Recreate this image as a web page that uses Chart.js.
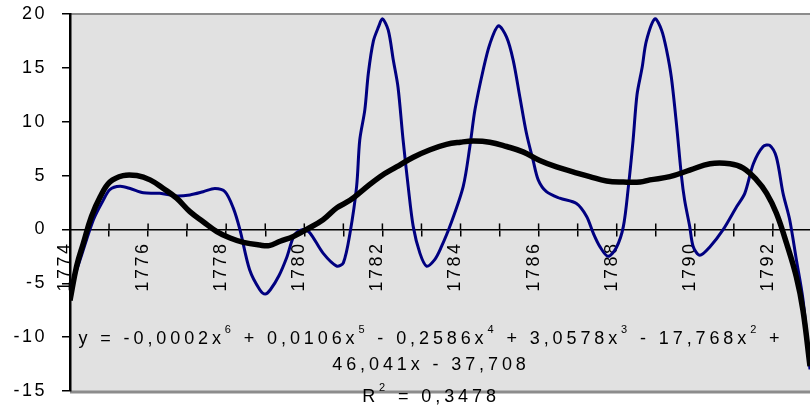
<!DOCTYPE html>
<html lang="en">
<head>
  <meta charset="UTF-8">
  <title>Series 1774-1792 with polynomial trend</title>
  <script src="https://cdn.jsdelivr.net/npm/chart.js"></script>
  <style>
    html, body {
      margin: 0;
      padding: 0;
      background: #fff;
    }
    .container {
      width: 810px;
      height: 409px;
    }
  </style>
</head>
<body>
  <div class="container">
    <canvas id="trendChart"></canvas>
  </div>

  <script>
    // blue series (year, value)
    const seriesYears = [
      1774.0, 1774.26, 1774.6, 1774.85, 1775.02, 1775.28, 1775.54, 1775.88, 1776.3, 1776.73,
      1777.07, 1777.41, 1777.71, 1777.97, 1778.18, 1778.35, 1778.6, 1778.86, 1779.0, 1779.13,
      1779.35, 1779.55, 1779.75, 1779.97, 1780.14, 1780.48, 1780.83, 1781.0, 1781.17, 1781.34,
      1781.42, 1781.55, 1781.64, 1781.77, 1781.9, 1782.0, 1782.15, 1782.28, 1782.4, 1782.53,
      1782.66, 1782.79, 1782.96, 1783.13, 1783.34, 1783.5, 1783.75, 1784.07, 1784.24, 1784.37,
      1784.58, 1784.75, 1784.97, 1785.18, 1785.35, 1785.52, 1785.69, 1785.86, 1785.99, 1786.2,
      1786.54, 1786.97, 1787.23, 1787.4, 1787.57, 1787.78, 1787.99, 1788.17, 1788.3, 1788.42,
      1788.52, 1788.65, 1788.76, 1788.98, 1789.15, 1789.28, 1789.4, 1789.53, 1789.66, 1789.74,
      1789.87, 1789.96, 1790.13, 1790.39, 1790.73, 1791.07, 1791.28, 1791.5, 1791.75, 1791.92,
      1792.09, 1792.26, 1792.43, 1792.6, 1792.77, 1792.95
    ];
    const seriesValues = [
      -5.6, -2.8, 0.9, 2.7, 3.7, 4.0, 3.8, 3.4, 3.35, 3.1,
      3.2, 3.5, 3.8, 3.5, 2.0, 0.0, -3.75, -5.6, -6.0, -5.6,
      -4.3, -2.6, -0.5, 0.0, -0.3, -2.2, -3.4, -3.1, -0.35, 4.0,
      8.3, 11.1, 14.5, 17.5, 18.8, 19.55, 18.5, 15.7, 13.2, 8.3,
      4.0, 0.26, -2.2, -3.4, -2.8, -1.7, 0.5, 4.0, 7.7, 11.1,
      14.8, 17.2, 18.9, 17.85, 15.7, 12.3, 8.9, 6.4, 4.6, 3.5,
      2.9, 2.4, 1.2, -0.35, -1.6, -2.5, -1.7, 0.26, 4.0, 8.3,
      12.5, 15.0, 17.5, 19.55, 18.5, 16.6, 14.1, 9.8, 4.9, 2.7,
      0.26, -1.6, -2.4, -1.6, 0.0, 2.1, 3.35, 6.1, 7.7, 7.8,
      6.7, 3.35, 0.9, -2.8, -6.5, -13.0
    ];

    // black polynomial trend line
    const trendYears = [
      1774.0, 1774.17, 1774.34, 1774.55, 1774.77, 1775.02, 1775.36, 1775.71, 1776.05, 1776.39,
      1776.73, 1777.07, 1777.41, 1777.76, 1778.1, 1778.44, 1778.86, 1779.1, 1779.38, 1779.72,
      1780.06, 1780.48, 1780.83, 1781.17, 1781.5, 1781.94, 1782.36, 1782.79, 1783.22, 1783.64,
      1784.0, 1784.33, 1784.75, 1785.18, 1785.6, 1786.03, 1786.46, 1786.88, 1787.31, 1787.74,
      1788.17, 1788.6, 1788.85, 1789.36, 1789.87, 1790.39, 1790.9, 1791.24, 1791.58, 1791.84,
      1792.09, 1792.35, 1792.6, 1792.77, 1792.95
    ];
    const trendValues = [
      -6.6, -3.4, -1.3, 1.2, 3.0, 4.4, 5.0, 5.0, 4.6, 3.8,
      2.9, 1.65, 0.72, -0.2, -0.8, -1.2, -1.45, -1.5, -1.1, -0.65,
      0.0, 0.9, 2.0, 2.7, 3.65, 4.9, 5.8, 6.7, 7.4, 7.9,
      8.1, 8.2, 8.1, 7.7, 7.2, 6.4, 5.8, 5.35, 4.9, 4.5,
      4.4, 4.4, 4.6, 4.9, 5.5, 6.1, 6.1, 5.7, 4.6, 3.35,
      1.5, -1.3, -4.4, -7.5, -12.7
    ];

    const yMin = -15;
    const yMax = 20;
    const xMin = 1774;
    const xMax = 1792.95;

    // trendline label, ^ marks a superscript character
    const equationLines = [
      'y = -0,0002x^6 + 0,0106x^5 - 0,2586x^4 + 3,0578x^3 - 17,768x^2 +',
      '46,041x - 37,708',
      'R^2 = 0,3478'
    ];

    const toPoints = (xs, ys) => xs.map((x, i) => ({ x: x, y: ys[i] }));

    function splitSup(line) {
      const parts = [];
      let buf = '';
      for (let i = 0; i < line.length; i++) {
        if (line[i] === '^') {
          if (buf) parts.push({ t: buf, sup: false });
          parts.push({ t: line[i + 1], sup: true });
          buf = '';
          i++;
        } else {
          buf += line[i];
        }
      }
      if (buf) parts.push({ t: buf, sup: false });
      return parts;
    }

    // drop the extra room chart.js keeps for half tick labels
    function noScalePadding(scale) {
      scale.paddingTop = 0;
      scale.paddingBottom = 0;
      scale.paddingLeft = 0;
      scale.paddingRight = 0;
    }

    const plotFrame = {
      id: 'plotFrame',
      beforeDraw(chart) {
        const { ctx, chartArea } = chart;
        ctx.letterSpacing = '2.5px';
        ctx.save();
        ctx.fillStyle = '#e1e1e1';
        ctx.fillRect(chartArea.left, chartArea.top, chartArea.right - chartArea.left, chartArea.bottom - chartArea.top);
        ctx.strokeStyle = '#8c8c8c';
        ctx.lineWidth = 2;
        ctx.beginPath();
        ctx.moveTo(chartArea.left, chartArea.top);
        ctx.lineTo(chartArea.right, chartArea.top);
        ctx.stroke();
        ctx.lineWidth = 3;
        ctx.beginPath();
        ctx.moveTo(chartArea.left, chartArea.bottom + 1);
        ctx.lineTo(chartArea.right, chartArea.bottom + 1);
        ctx.stroke();
        ctx.restore();
      },
      beforeDatasetsDraw(chart) {
        // Excel-style cross ticks: the upper half above the category axis
        const { ctx, scales } = chart;
        const y0 = scales.y.getPixelForValue(0);
        ctx.save();
        ctx.strokeStyle = '#000';
        ctx.lineWidth = 1.5;
        scales.x.ticks.forEach(t => {
          const px = scales.x.getPixelForValue(t.value);
          ctx.beginPath();
          ctx.moveTo(px, y0 - 6);
          ctx.lineTo(px, y0);
          ctx.stroke();
        });
        ctx.restore();
      },
      afterDraw(chart) {
        const { ctx, chartArea } = chart;
        const cx = (chartArea.left + chartArea.right) / 2 - 9;
        const baselines = [chartArea.top + 330, chartArea.top + 356, chartArea.top + 388];
        ctx.save();
        ctx.letterSpacing = '3.9px';
        ctx.fillStyle = '#000';
        ctx.textBaseline = 'alphabetic';
        ctx.textAlign = 'left';
        equationLines.forEach((line, li) => {
          const parts = splitSup(line);
          let total = 0;
          parts.forEach(p => {
            ctx.font = p.sup ? '11px "Liberation Sans", Arial, sans-serif' : '18px "Liberation Sans", Arial, sans-serif';
            p.w = ctx.measureText(p.t).width;
            total += p.w;
          });
          let x = cx - total / 2;
          parts.forEach(p => {
            ctx.font = p.sup ? '11px "Liberation Sans", Arial, sans-serif' : '18px "Liberation Sans", Arial, sans-serif';
            ctx.fillText(p.t, x, baselines[li] - (p.sup ? 11 : 0));
            x += p.w;
          });
        });
        ctx.restore();
      }
    };

    const ctx = document.getElementById('trendChart').getContext('2d');
    new Chart(ctx, {
      type: 'line',
      data: {
        datasets: [
          {
            label: 'Polynomial trend',
            data: toPoints(trendYears, trendValues),
            borderColor: '#000000',
            borderWidth: 5.5,
            pointRadius: 0,
            tension: 0.4,
            fill: false
          },
          {
            label: 'Series',
            data: toPoints(seriesYears, seriesValues),
            borderColor: '#000080',
            borderWidth: 3,
            pointRadius: 0,
            tension: 0.3,
            fill: false
          }
        ]
      },
      options: {
        responsive: true,
        maintainAspectRatio: false,
        animation: false,
        layout: {
          padding: { top: 14, bottom: 18, left: 0, right: 0 }
        },
        plugins: {
          legend: { display: false },
          title: { display: false },
          tooltip: { enabled: false }
        },
        scales: {
          x: {
            type: 'linear',
            position: { y: 0 },
            min: xMin,
            max: xMax,
            afterFit: noScalePadding,
            afterBuildTicks: scale => {
              scale.ticks = scale.ticks.filter(t => Number.isInteger(t.value));
            },
            ticks: {
              stepSize: 1,
              autoSkip: false,
              minRotation: 90,
              maxRotation: 90,
              padding: 6,
              labelOffset: -5,
              color: '#000',
              font: { family: '"Liberation Sans", Arial, sans-serif', size: 18 },
              callback: v => (v % 2 === 0 ? String(v) : '')
            },
            grid: {
              drawOnChartArea: false,
              drawTicks: true,
              tickLength: 6,
              color: '#000',
              lineWidth: 1.5
            },
            border: { display: true, color: '#000', width: 1.5 }
          },
          y: {
            min: yMin,
            max: yMax,
            afterFit: scale => {
              scale.width = 70;
              noScalePadding(scale);
            },
            ticks: {
              stepSize: 5,
              padding: 15,
              color: '#000',
              font: { family: '"Liberation Sans", Arial, sans-serif', size: 18 }
            },
            grid: {
              drawOnChartArea: false,
              drawTicks: true,
              tickLength: 8,
              color: '#000',
              lineWidth: 1.5
            },
            border: { display: true, color: '#000', width: 2.5 }
          }
        }
      },
      plugins: [plotFrame]
    });
  </script>
</body>
</html>
